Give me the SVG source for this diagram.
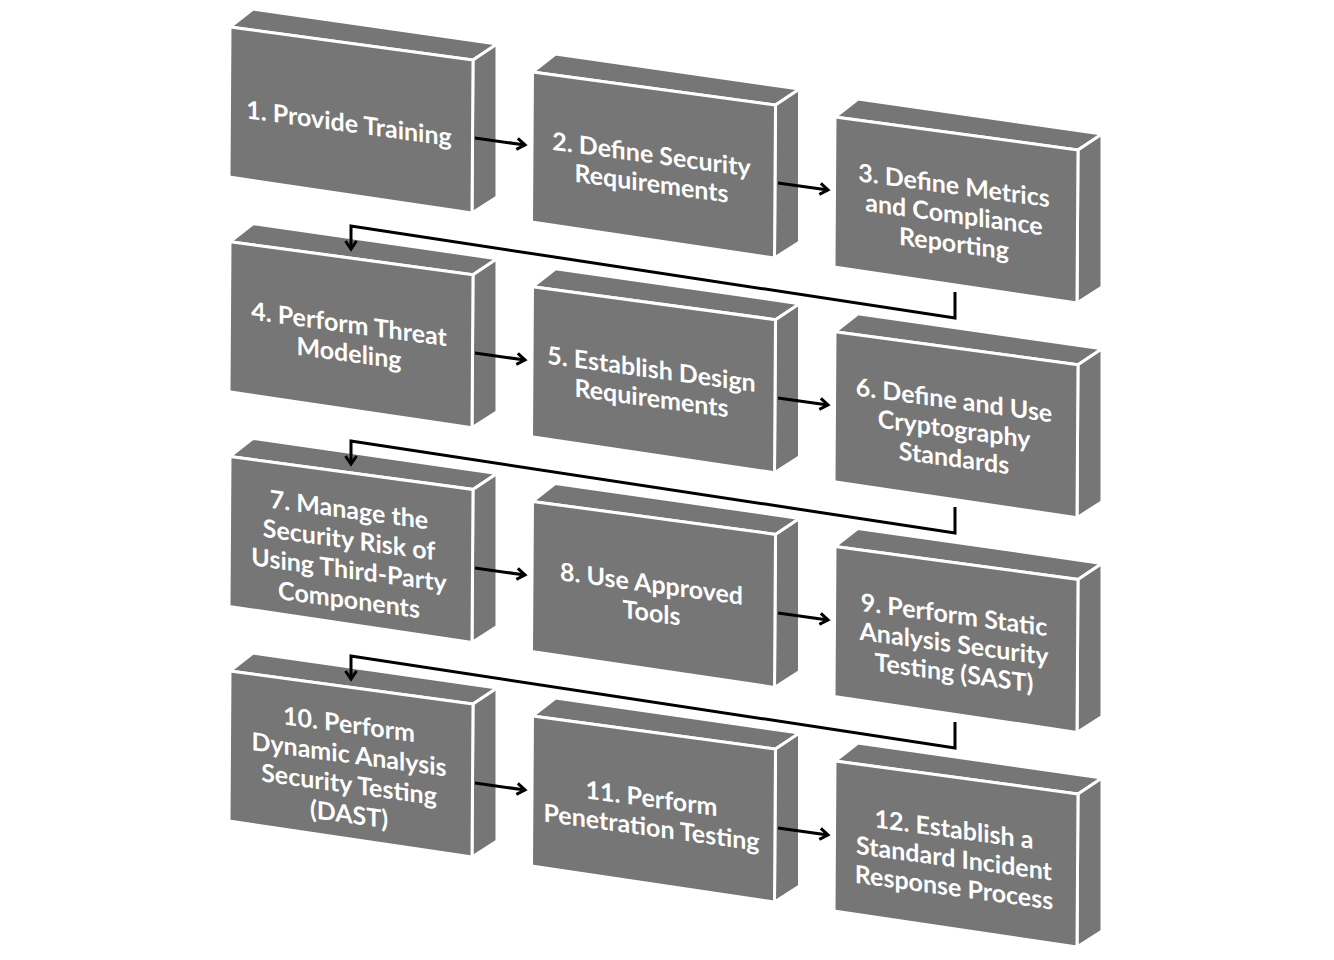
<svg xmlns="http://www.w3.org/2000/svg" width="1334" height="960" viewBox="0 0 1334 960">
<style>
.f{fill:#767676;stroke:#ffffff;stroke-width:3;stroke-linejoin:miter}
.t{font-family:Lato,"Liberation Sans",sans-serif;font-weight:bold;font-size:25px;fill:#ffffff;text-anchor:middle}
.c{fill:none;stroke:#000000;stroke-width:3}
</style>
<defs>
<g id="box">
<polygon class="f" points="0,0 23,-18 267,17 243,33"/>
<polygon class="f" points="243,33 267,17 267,170 242,186"/>
<polygon class="f" points="0,0 243,33 242,186 -1,150"/>
</g>
<marker id="ah" markerWidth="14" markerHeight="14" refX="11" refY="7" orient="auto" markerUnits="userSpaceOnUse">
<polyline points="3,1.5 11,7 3,12.5" fill="none" stroke="#000000" stroke-width="3"/>
</marker>
</defs>
<rect width="1334" height="960" fill="#ffffff"/>
<g id="n1" transform="translate(230,27)"><use href="#box"/>
<g transform="skewY(7.74)"><text class="t" x="119" y="89">1. Provide Training</text></g></g>
<g id="n2" transform="translate(532.5,72)"><use href="#box"/>
<g transform="skewY(7.74)"><text class="t" x="119" y="75">2. Define Security</text><text class="t" x="119" y="104">Requirements</text></g></g>
<g id="n3" transform="translate(835,117)"><use href="#box"/>
<g transform="skewY(7.74)"><text class="t" x="119" y="61">3. Define Metrics</text><text class="t" x="119" y="90">and Compliance</text><text class="t" x="119" y="119">Reporting</text></g></g>
<g id="n4" transform="translate(230,241.7)"><use href="#box"/>
<g transform="skewY(7.74)"><text class="t" x="119" y="75">4. Perform Threat</text><text class="t" x="119" y="104">Modeling</text></g></g>
<g id="n5" transform="translate(532.5,286.7)"><use href="#box"/>
<g transform="skewY(7.74)"><text class="t" x="119" y="75">5. Establish Design</text><text class="t" x="119" y="104">Requirements</text></g></g>
<g id="n6" transform="translate(835,331.7)"><use href="#box"/>
<g transform="skewY(7.74)"><text class="t" x="119" y="61">6. Define and Use</text><text class="t" x="119" y="90">Cryptography</text><text class="t" x="119" y="119">Standards</text></g></g>
<g id="n7" transform="translate(230,456.4)"><use href="#box"/>
<g transform="skewY(7.74)"><text class="t" x="119" y="46">7. Manage the</text><text class="t" x="119" y="76">Security Risk of</text><text class="t" x="119" y="106">Using Third-Party</text><text class="t" x="119" y="136">Components</text></g></g>
<g id="n8" transform="translate(532.5,501.4)"><use href="#box"/>
<g transform="skewY(7.74)"><text class="t" x="119" y="75">8. Use Approved</text><text class="t" x="119" y="104">Tools</text></g></g>
<g id="n9" transform="translate(835,546.4)"><use href="#box"/>
<g transform="skewY(7.74)"><text class="t" x="119" y="61">9. Perform Static</text><text class="t" x="119" y="90">Analysis Security</text><text class="t" x="119" y="119">Testing (SAST)</text></g></g>
<g id="n10" transform="translate(230,671)"><use href="#box"/>
<g transform="skewY(7.74)"><text class="t" x="119" y="46">10. Perform</text><text class="t" x="119" y="76">Dynamic Analysis</text><text class="t" x="119" y="106">Security Testing</text><text class="t" x="119" y="136">(DAST)</text></g></g>
<g id="n11" transform="translate(532.5,716)"><use href="#box"/>
<g transform="skewY(7.74)"><text class="t" x="119" y="75">11. Perform</text><text class="t" x="119" y="104">Penetration Testing</text></g></g>
<g id="n12" transform="translate(835,761)"><use href="#box"/>
<g transform="skewY(7.74)"><text class="t" x="119" y="61">12. Establish a</text><text class="t" x="119" y="90">Standard Incident</text><text class="t" x="119" y="119">Response Process</text></g></g>
<g id="connectors">
<line class="c" x1="475" y1="138" x2="525" y2="145" marker-end="url(#ah)"/>
<line class="c" x1="778" y1="183" x2="828" y2="190" marker-end="url(#ah)"/>
<line class="c" x1="475" y1="353" x2="525" y2="360" marker-end="url(#ah)"/>
<line class="c" x1="778" y1="398" x2="828" y2="405" marker-end="url(#ah)"/>
<line class="c" x1="475" y1="568" x2="525" y2="575" marker-end="url(#ah)"/>
<line class="c" x1="778" y1="613" x2="828" y2="620" marker-end="url(#ah)"/>
<line class="c" x1="475" y1="783" x2="525" y2="790" marker-end="url(#ah)"/>
<line class="c" x1="778" y1="828" x2="828" y2="835" marker-end="url(#ah)"/>
<polyline class="c" points="955,292 955,318 351,226 351,249" marker-end="url(#ah)"/>
<polyline class="c" points="955,507 955,533 351,441 351,464" marker-end="url(#ah)"/>
<polyline class="c" points="955,722 955,748 351,656 351,679" marker-end="url(#ah)"/>
</g>
</svg>
